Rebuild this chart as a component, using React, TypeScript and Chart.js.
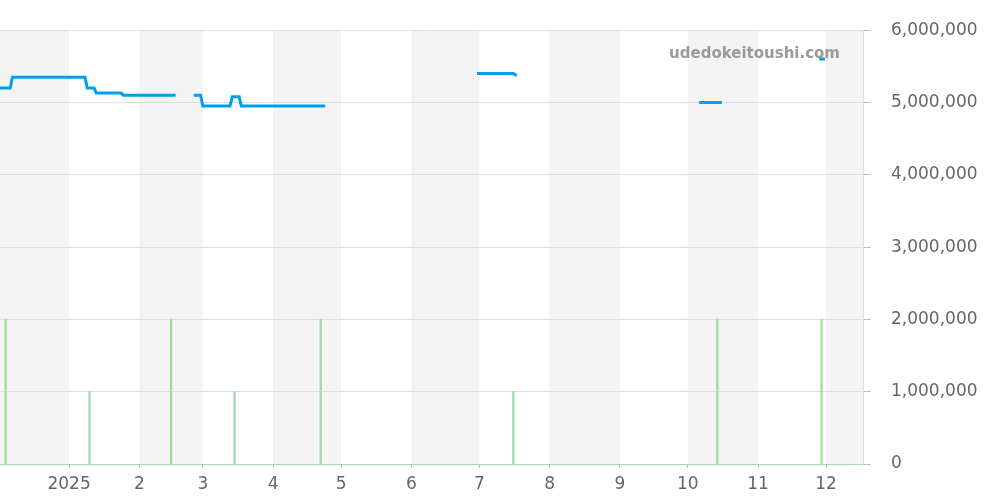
import React, { useEffect, useRef } from "react";
import { Chart, registerables } from "chart.js";

Chart.register(...registerables);

// x values are day offsets from 2024-12-01
const monthStarts = [31, 62, 90, 121, 151, 182, 212, 243, 274, 304, 335, 365];
const monthLabels = ["2025", "2", "3", "4", "5", "6", "7", "8", "9", "10", "11", "12"];
const shadedBands: [number, number][] = [
  [0, 31], [62, 90], [121, 151], [182, 212], [243, 274], [304, 335], [365, 396],
];

const priceDays: number[] = [
  0, 5, 6, 38, 39, 42, 43, 54, 55, 78, 82,
  86, 89, 90, 102, 103, 106, 107, 144, 180,
  211, 227, 228.5, 260,
  309, 319, 340,
  362, 364.5,
];
const priceValues: (number | null)[] = [
  5200000, 5200000, 5350000, 5350000, 5200000, 5200000, 5130000, 5130000, 5100000, 5100000, null,
  5100000, 5100000, 4950000, 4950000, 5080000, 5080000, 4950000, 4950000, null,
  5400000, 5400000, 5370000, null,
  5000000, 5000000, null,
  5600000, 5600000,
];

const volumeDays = [3, 40, 76, 104, 142, 227, 317, 363];
const volumeCounts = [2, 1, 2, 1, 2, 1, 2, 2];

const X_MIN = 0.5;
const X_MAX = 381.3;

const FONT = "'DejaVu Sans', sans-serif";

const bandsPlugin = {
  id: "bands",
  beforeDraw(chart: any) {
    const { ctx, chartArea, scales } = chart;
    const xs = scales.x;
    ctx.save();
    ctx.fillStyle = "#f4f4f4";
    for (const [a, b] of shadedBands) {
      const x1 = Math.max(chartArea.left, xs.getPixelForValue(a));
      const x2 = Math.min(chartArea.right, xs.getPixelForValue(b));
      if (x2 > x1) ctx.fillRect(x1, chartArea.top, x2 - x1, chartArea.bottom - chartArea.top);
    }
    ctx.restore();
  },
  beforeDatasetsDraw(chart: any) {
    const { ctx } = chart;
    ctx.save();
    ctx.font = `bold 15px ${FONT}`;
    ctx.fillStyle = "#9a9a9a";
    ctx.textAlign = "right";
    ctx.textBaseline = "alphabetic";
    ctx.fillText("udedokeitoushi.com", 840, 58);
    ctx.restore();
  },
};

export default function App() {
  const ref = useRef<HTMLCanvasElement | null>(null);

  useEffect(() => {
    if (!ref.current) return;
    const chart = new Chart(ref.current, {
      type: "line",
      data: {
        datasets: [
          {
            type: "line",
            data: priceDays.map((d, i) => ({ x: d, y: priceValues[i] })) as any,
            borderColor: "#00a0e9",
            borderWidth: 3,
            pointRadius: 0,
            spanGaps: false,
            tension: 0,
            yAxisID: "y",
            order: 1,
          },
          {
            type: "bar",
            data: volumeDays.map((d, i) => ({ x: d, y: volumeCounts[i] })) as any,
            backgroundColor: "#9ddca7",
            barThickness: 1.6,
            yAxisID: "y1",
            order: 2,
          } as any,
        ],
      },
      plugins: [bandsPlugin],
      options: {
        responsive: false,
        animation: false,
        layout: { padding: { top: 30, left: 0, right: 0, bottom: 0 } },
        plugins: { legend: { display: false }, tooltip: { enabled: false } },
        scales: {
          x: {
            type: "linear",
            min: X_MIN,
            max: X_MAX,
            offset: false,
            afterBuildTicks: (scale: any) => {
              scale.ticks = monthStarts.map((v) => ({ value: v }));
            },
            afterFit: (scale: any) => {
              scale.height = 36;
            },
            ticks: {
              autoSkip: false,
              maxRotation: 0,
              padding: 6,
              color: "#666",
              font: { family: FONT, size: 17 },
              callback: (_v: any, i: number) => monthLabels[i],
            },
            grid: {
              offset: false,
              drawOnChartArea: false,
              drawTicks: true,
              tickLength: 4,
              color: "#bbbbbb",
            },
            border: { display: true, color: "#a8dcb0", dash: [1, 1], width: 1 },
          },
          y: {
            type: "linear",
            position: "right",
            min: 0,
            max: 6000000,
            afterFit: (scale: any) => {
              scale.width = 137;
            },
            ticks: {
              stepSize: 1000000,
              padding: 20,
              color: "#666",
              font: { family: FONT, size: 17 },
              callback: (v: any) => Number(v).toLocaleString("en-US"),
            },
            grid: { color: "#dddddd", tickLength: 8, tickColor: "#bbbbbb" },
            border: { display: true, color: "#dddddd" },
          },
          y1: {
            type: "linear",
            display: false,
            min: 0,
            max: 6,
          },
        },
      },
    } as any);
    return () => chart.destroy();
  }, []);

  return (
    <div style={{ position: "absolute", left: 0, top: 0, width: 1000, height: 500, background: "#fff" }}>
      <canvas ref={ref} width={1000} height={500} />
    </div>
  );
}
